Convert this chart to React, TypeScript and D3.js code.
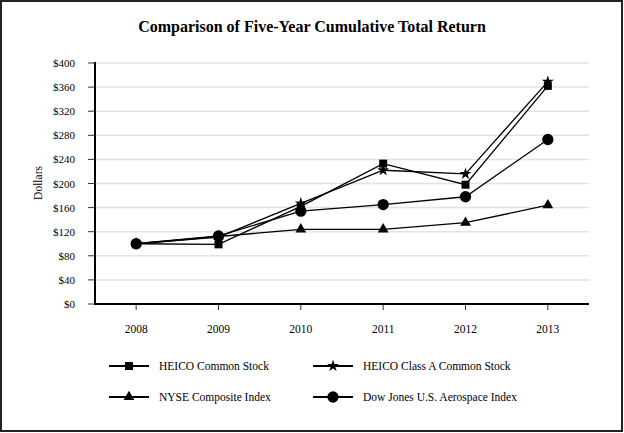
import React from "react";
import * as d3 from "d3";

const years = ["2008", "2009", "2010", "2011", "2012", "2013"];
const heicoCommon = [100, 99, 162, 233, 198, 362];
const heicoClassA = [100, 111, 167, 222, 216, 369];
const nyseComposite = [100, 112, 124, 124, 135, 164];
const dowJonesAerospace = [100, 113, 154, 165, 178, 273];
const yTicks = [0, 40, 80, 120, 160, 200, 240, 280, 320, 360, 400];

const seriesNames = [
  "HEICO Common Stock",
  "HEICO Class A Common Stock",
  "NYSE Composite Index",
  "Dow Jones U.S. Aerospace Index",
];

const W = 624;
const H = 433;
const FONT = "Liberation Serif, Times New Roman, Times, DejaVu Serif, serif";

export default function App() {
  const x = d3.scalePoint<string>().domain(years).range([95, 589]).padding(0.5);
  const y = d3.scaleLinear().domain([0, 400]).range([304, 63]);

  const sym = (type: d3.SymbolType, size: number) => d3.symbol().type(type).size(size)() || "";
  const shapes = [
    sym(d3.symbolSquare, 64),
    sym(d3.symbolStar, 44),
    sym(d3.symbolTriangle, 50),
    sym(d3.symbolCircle, 100),
  ];
  const data = [heicoCommon, heicoClassA, nyseComposite, dowJonesAerospace];

  const line = d3
    .line<number>()
    .x((_, i) => x(years[i]) as number)
    .y((d) => y(d));

  const legendPos = [
    { lx: 109, ly: 366 },
    { lx: 313, ly: 366 },
    { lx: 109, ly: 397 },
    { lx: 313, ly: 397 },
  ];

  return (
    <svg
      width={W}
      height={H}
      style={{ position: "absolute", left: 0, top: 0, background: "#fff", fontFamily: FONT }}
    >
      <rect x={1} y={1} width={W - 3} height={H - 3} fill="#fff" stroke="#222" strokeWidth={2} />
      <text x={312} y={32} textAnchor="middle" fontSize={16} fontWeight="bold" style={{ fontFamily: FONT }}>
        Comparison of Five-Year Cumulative Total Return
      </text>

      {yTicks.map((t) => (
        <g key={t}>
          {t > 0 && (
            <line x1={96} x2={589} y1={y(t)} y2={y(t)} stroke="#e3e3e3" strokeWidth={1.5} />
          )}
          <line x1={88} x2={95} y1={y(t)} y2={y(t)} stroke="#333" strokeWidth={1} />
          <text x={75} y={y(t) + 4} textAnchor="end" fontSize={11} style={{ fontFamily: FONT }}>
            ${t}
          </text>
        </g>
      ))}

      {years.map((yr) => (
        <g key={yr}>
          <line x1={x(yr)} x2={x(yr)} y1={304} y2={310} stroke="#333" strokeWidth={1} />
          <text x={x(yr)} y={333} textAnchor="middle" fontSize={11.5} style={{ fontFamily: FONT }}>
            {yr}
          </text>
        </g>
      ))}

      <line x1={95} x2={95} y1={62} y2={305} stroke="#000" strokeWidth={2} />
      <line x1={94} x2={589} y1={304} y2={304} stroke="#000" strokeWidth={2} />

      <text
        transform={`translate(42,183) rotate(-90)`}
        textAnchor="middle"
        fontSize={11.5}
        style={{ fontFamily: FONT }}
      >
        Dollars
      </text>

      {data.map((vals, si) => (
        <g key={si}>
          <path d={line(vals) || ""} fill="none" stroke="#000" strokeWidth={1.3} />
          {vals.map((v, i) => (
            <path
              key={i}
              d={shapes[si]}
              transform={`translate(${x(years[i])},${y(v)})`}
              fill="#000"
            />
          ))}
        </g>
      ))}

      {seriesNames.map((name, si) => {
        const { lx, ly } = legendPos[si];
        return (
          <g key={name}>
            <line x1={lx} x2={lx + 40} y1={ly} y2={ly} stroke="#000" strokeWidth={2} />
            <path d={shapes[si]} transform={`translate(${lx + 20},${ly})`} fill="#000" />
            <text x={lx + 50} y={ly + 4} fontSize={11.5} style={{ fontFamily: FONT }}>
              {name}
            </text>
          </g>
        );
      })}
    </svg>
  );
}
